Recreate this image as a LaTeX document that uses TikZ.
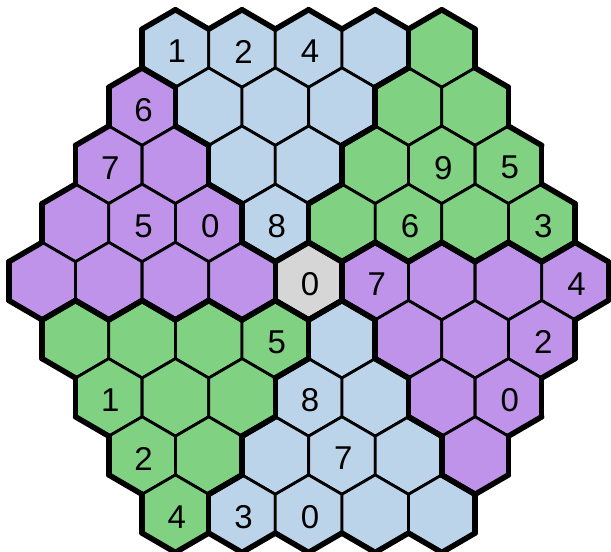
\documentclass[tikz,border=0pt]{standalone}
\usepackage{fontspec}
\setmainfont{Liberation Sans}
\definecolor{cB}{RGB}{188,212,234}
\definecolor{cG}{RGB}{128,210,130}
\definecolor{cP}{RGB}{191,147,234}
\definecolor{cY}{RGB}{214,214,214}
\begin{document}
\begin{tikzpicture}[x=1pt,y=-1pt,
  hexthin/.style={line width=2.8pt, line join=round},
  hexthick/.style={line width=5.5pt, line cap=round},
  lbl/.style={font=\fontsize{33}{33}\selectfont, text=black, inner sep=0pt}]
\useasboundingbox (0,0) rectangle (611,552);
\def\hw{33.3}
\def\hr{38.77}
\def\hexdata{0/{B/1,B/2,B/4,B/{},G/{}},
1/{P/6,B/{},B/{},B/{},G/{},G/{}},
2/{P/7,P/{},B/{},B/{},G/{},G/9,G/5},
3/{P/{},P/5,P/0,B/8,G/{},G/6,G/{},G/3},
4/{P/{},P/{},P/{},P/{},Y/0,P/7,P/{},P/{},P/4},
5/{G/{},G/{},G/{},G/5,B/{},P/{},P/{},P/2},
6/{G/1,G/{},G/{},B/8,B/{},P/{},P/0},
7/{G/2,G/{},B/{},B/7,B/{},P/{}},
8/{G/4,B/3,B/0,B/{},B/{}}}
% store colours
\foreach \r/\lst in \hexdata {
  \foreach \c/\t [count=\i from 0] in \lst {
    \pgfmathtruncatemacro\X{2*\i-8+abs(\r-4)}
    \expandafter\xdef\csname hc@\r @\X\endcsname{\c}
  }
}
% fills, thin outlines, labels
\foreach \r/\lst in \hexdata {
  \foreach \c/\t [count=\i from 0] in \lst {
    \pgfmathtruncatemacro\X{2*\i-8+abs(\r-4)}
    \pgfmathsetmacro\cx{308.6+\hw*\X}
    \pgfmathsetmacro\cy{48.5+58.15*\r}
    \filldraw[fill=c\c, hexthin] (\cx,\cy-\hr) -- (\cx+\hw,\cy-0.5*\hr) -- (\cx+\hw,\cy+0.5*\hr)
      -- (\cx,\cy+\hr) -- (\cx-\hw,\cy+0.5*\hr) -- (\cx-\hw,\cy-0.5*\hr) -- cycle;
    \node[lbl] (h-\r-\i) at (\cx+1.5,\cy+3) {\t};
  }
}
% thick region boundaries
\foreach \r/\lst in \hexdata {
  \foreach \c/\t [count=\i from 0] in \lst {
    \pgfmathtruncatemacro\X{2*\i-8+abs(\r-4)}
    \pgfmathsetmacro\cx{308.6+\hw*\X}
    \pgfmathsetmacro\cy{48.5+58.15*\r}
    \edef\mine{\c}
    \foreach \dr/\dX/\ax/\ay/\bx/\by in {-1/1/0/-1/1/-0.5, 0/2/1/-0.5/1/0.5, 1/1/1/0.5/0/1, 1/-1/0/1/-1/0.5, 0/-2/-1/0.5/-1/-0.5, -1/-1/-1/-0.5/0/-1} {
      \pgfmathtruncatemacro\nr{\r+\dr}
      \pgfmathtruncatemacro\nX{\X+\dX}
      \def\need{1}
      \ifcsname hc@\nr @\nX\endcsname
        \edef\other{\csname hc@\nr @\nX\endcsname}
        \ifx\other\mine \def\need{0}\fi
      \fi
      \if1\need
        \draw[hexthick] (\cx+\ax*\hw,\cy+\ay*\hr) -- (\cx+\bx*\hw,\cy+\by*\hr);
      \fi
    }
  }
}
\end{tikzpicture}
\end{document}
